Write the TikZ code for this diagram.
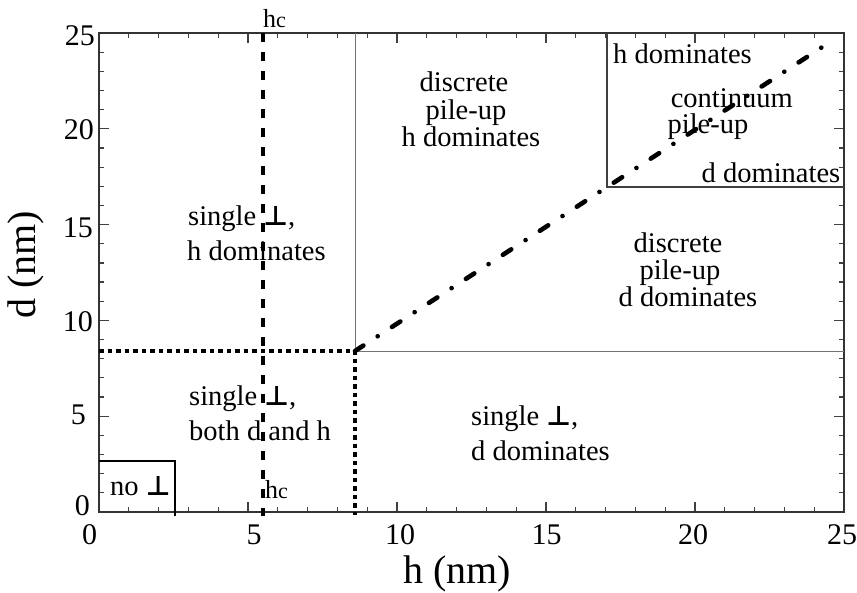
\documentclass[tikz,border=0pt]{standalone}
\usepackage{fontspec}
\setmainfont{Liberation Serif}
\newfontfamily\symfont{DejaVu Sans}
\newcommand\dislo{{\symfont\bfseries\fontsize{27}{27}\selectfont ⊥}}
\tikzset{
  frame/.style={line width=1.8pt, draw=black!80},
  tickline/.style={line width=1.2pt, draw=black!75},
  thinline/.style={line width=1pt, draw=black!55},
  boxline/.style={line width=1.4pt, draw=black!75},
  hcline/.style={line width=3.3pt, dash pattern=on 9pt off 10pt},
  dotline/.style={line width=3.2pt, dash pattern=on 4.5pt off 4pt},
  dashdot/.style={line width=4.6pt, line cap=round, dash pattern=on 10pt off 17pt on 0.1pt off 17pt},
  nobox/.style={line width=2.8pt},
  lbl/.style={font=\fontsize{28.5}{30}\selectfont, inner sep=0pt},
  ticklbl/.style={font=\fontsize{30}{30}\selectfont, inner sep=0pt},
  axlbl/.style={font=\fontsize{40}{40}\selectfont, inner sep=0pt},
}
\begin{document}
\begin{tikzpicture}[x=1pt,y=-1pt]
\useasboundingbox (0,0) rectangle (857,592);
% key points
\coordinate (O) at (99,512);
\coordinate (TL) at (99,33);
\coordinate (TR) at (844,33);
\coordinate (BR) at (844,512);
\coordinate (J) at (355,351);
\coordinate (Jtop) at (355,33);
\coordinate (Jright) at (844,351);
\coordinate (Jleft) at (99,351);
\coordinate (Jbot) at (355,515);
\coordinate (hcT) at (263,33);
\coordinate (hcB) at (263,516);
\coordinate (boxBL) at (607,187);
\coordinate (boxBR) at (844,187);
\coordinate (boxTL) at (607,33);
\coordinate (ddEnd) at (830,42);
\coordinate (noT) at (99,461);
\coordinate (noC) at (175,461);
\coordinate (noB) at (175,516);
% ticks
\foreach \k in {1,...,24} {
  \draw[tickline] ({99+29.8*\k},512) -- ++(0,-5);
  \draw[tickline] ({99+29.8*\k},33) -- ++(0,5);
  \draw[tickline] (99,{512-19.16*\k}) -- ++(5,0);
  \draw[tickline] (844,{512-19.16*\k}) -- ++(-5,0);
}
\foreach \k in {5,10,15,20} {
  \draw[tickline] ({99+29.8*\k},512) -- ++(0,-10);
  \draw[tickline] ({99+29.8*\k},33) -- ++(0,10);
  \draw[tickline] (99,{512-19.16*\k}) -- ++(10,0);
  \draw[tickline] (844,{512-19.16*\k}) -- ++(-10,0);
}
% frame
\draw[frame] (O) -- (TL) -- (TR) -- (BR) -- cycle;
% region boundaries
\draw[thinline] (Jtop) -- (J) -- (Jright);
\draw[dotline] (Jleft) -- (J) -- (Jbot);
\draw[hcline] (hcT) -- (hcB);
\draw[boxline] (boxTL) -- (boxBL) -- (boxBR);
\draw[dashdot] (J) -- (ddEnd);
\draw[nobox] (noT) -- (noC) -- (noB);
% region labels
\node[lbl, anchor=base] (disc1) at (464,91.7) {discrete};
\node[lbl, anchor=base] (pile1) at (466,119) {pile-up};
\node[lbl, anchor=base] (hdom1) at (471,146.5) {h dominates};
\node[lbl, anchor=base] (hdom2) at (682.5,63) {h dominates};
\node[lbl, anchor=base] (cont) at (731.7,107) {continuum};
\node[lbl, anchor=base] (pile2) at (708,133) {pile-up};
\node[lbl, anchor=base] (ddom2) at (771,182) {d dominates};
\node[lbl, anchor=base] (disc3) at (678,252) {discrete};
\node[lbl, anchor=base] (pile3) at (680,279) {pile-up};
\node[lbl, anchor=base] (ddom3) at (688,306) {d dominates};
\node[lbl, anchor=base west] (single1) at (188,225) {single \dislo,};
\node[lbl, anchor=base west] (hdomL) at (187,260) {h dominates};
\node[lbl, anchor=base west] (single2) at (189,405) {single \dislo,};
\node[lbl, anchor=base west] (both) at (189,440) {both d and h};
\node[lbl, anchor=base west] (single3) at (471,425) {single \dislo,};
\node[lbl, anchor=base west] (ddom4) at (471,460) {d dominates};
\node[lbl, anchor=base west] (nodis) at (110,495) {no \dislo};
\node[font=\fontsize{26}{26}\selectfont, inner sep=0pt, anchor=base west] (hcTop) at (263,27) {h{\fontsize{22}{22}\selectfont c}};
\node[font=\fontsize{26}{26}\selectfont, inner sep=0pt, anchor=base west] (hcBot) at (265,498) {h{\fontsize{22}{22}\selectfont c}};
% tick labels
\node[ticklbl, anchor=base] (x0) at (89.5,544) {0};
\node[ticklbl, anchor=base] (x5) at (254,544) {5};
\node[ticklbl, anchor=base] (x10) at (400,544) {10};
\node[ticklbl, anchor=base] (x15) at (546.7,544) {15};
\node[ticklbl, anchor=base] (x20) at (693,544) {20};
\node[ticklbl, anchor=base] (x25) at (842,544) {25};
\node[ticklbl, anchor=east] (y25) at (95,36) {25};
\node[ticklbl, anchor=east] (y20) at (94,130) {20};
\node[ticklbl, anchor=east] (y15) at (93,228) {15};
\node[ticklbl, anchor=east] (y10) at (93,322) {10};
\node[ticklbl, anchor=east] (y5) at (86,415) {5};
\node[ticklbl, anchor=east] (y0) at (90,506) {0};
% axis labels
\node[axlbl] (xlab) at (457,574) {h (nm)};
\node[axlbl, rotate=90] (ylab) at (26,265) {d (nm)};
\end{tikzpicture}
\end{document}
